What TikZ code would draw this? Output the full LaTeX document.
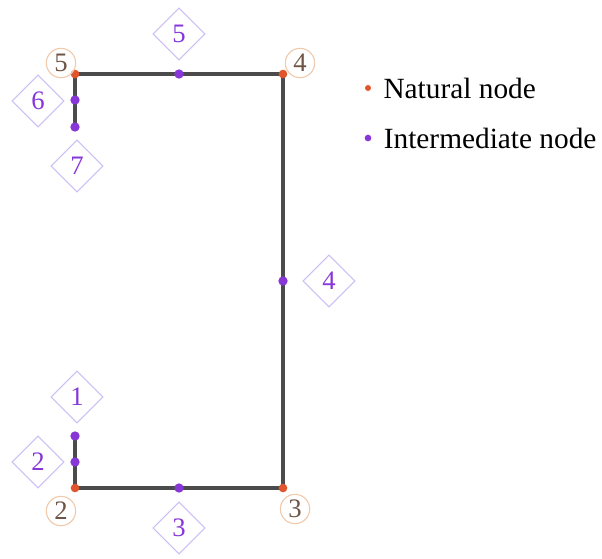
\documentclass[tikz,border=0pt]{standalone}
\usepackage{fontspec}
\setmainfont{Liberation Serif}
\definecolor{framegray}{RGB}{75,75,75}
\definecolor{natorange}{RGB}{225,85,45}
\definecolor{intpurple}{RGB}{135,55,215}
\definecolor{ringpeach}{RGB}{240,200,170}
\definecolor{tagviolet}{RGB}{205,190,245}
\definecolor{numbrown}{RGB}{110,85,70}
\usetikzlibrary{shapes.geometric,positioning,backgrounds}

\begin{document}
\begin{tikzpicture}[x=0.75pt, y=-0.75pt,
    natdot/.style={circle, fill=natorange, inner sep=0pt, minimum size=6.5pt},
    intdot/.style={circle, fill=intpurple, inner sep=0pt, minimum size=7pt},
    natlabel/.style={circle, draw=ringpeach, line width=0.8pt, text=numbrown, inner sep=0pt,
                     minimum size=22pt, font=\fontsize{20}{20}\selectfont},
    intlabel/.style={diamond, draw=tagviolet, line width=0.8pt, text=intpurple, inner sep=0pt,
                     minimum width=39pt, minimum height=39pt, font=\fontsize{20}{20}\selectfont},
    member/.style={line width=2.6pt, framegray},
    legend/.style={anchor=west, inner sep=0pt, font=\fontsize{22}{22}\selectfont}]

    \useasboundingbox (0,0) rectangle (602,558);

    % natural nodes
    \node[natdot] (n2) at (75,488) {};
    \node[natdot] (n3) at (283,488) {};
    \node[natdot] (n4) at (283,74) {};
    \node[natdot] (n5) at (75,74) {};

    % intermediate nodes
    \node[intdot] (i1) at (75,436) {};
    \node[intdot] (i2) at (75,462) {};
    \node[intdot] (i3) at (179,488) {};
    \node[intdot] (i4) at (283,281) {};
    \node[intdot] (i5) at (179,74) {};
    \node[intdot] (i6) at (75,100) {};
    \node[intdot] (i7) at (75,127) {};

    % members
    \begin{scope}[on background layer]
        \draw[member] (i1.center) -- (i2.center) -- (n2.center) -- (i3.center) -- (n3.center)
            -- (i4.center) -- (n4.center) -- (i5.center) -- (n5.center) -- (i6.center) -- (i7.center);
    \end{scope}

    % labels
    \node[natlabel] (ln2) at (61,511) {2};
    \node[natlabel] (ln3) at (295,509) {3};
    \node[natlabel] (ln4) at (300,63) {4};
    \node[natlabel] (ln5) at (61,63) {5};

    \node[intlabel] (li1) at (77,397) {1};
    \node[intlabel] (li2) at (38,462) {2};
    \node[intlabel] (li3) at (179,528) {3};
    \node[intlabel] (li4) at (329,281) {4};
    \node[intlabel] (li5) at (179,34) {5};
    \node[intlabel] (li6) at (38,101) {6};
    \node[intlabel] (li7) at (77,166) {7};

    % legend
    \node[natdot, minimum size=4.5pt] (kn) at (368,88) {};
    \node[intdot, minimum size=5pt] (ki) at (368,138) {};
    \node[legend, right=9pt of kn] (tn) {Natural node};
    \node[legend, right=9pt of ki] (ti) {Intermediate node};
\end{tikzpicture}
\end{document}
